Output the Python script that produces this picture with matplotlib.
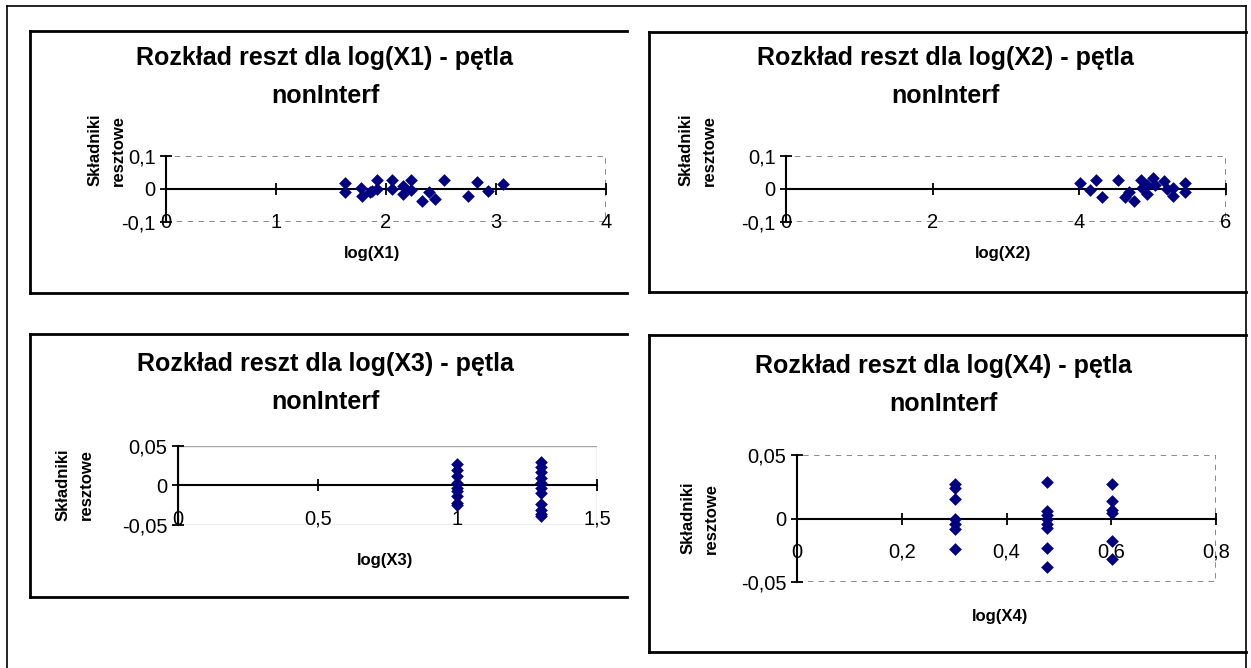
import matplotlib
matplotlib.use("Agg")
import matplotlib.pyplot as plt
from matplotlib.patches import Rectangle
from matplotlib.lines import Line2D

plt.rcParams['font.family'] = ['Liberation Sans', 'DejaVu Sans']
plt.rcParams['axes.unicode_minus'] = False

# residuals
x1 = [1.63, 1.63, 1.77, 1.78, 1.855, 1.87, 1.915, 1.92, 2.057, 2.057, 2.157, 2.157,
      2.227, 2.227, 2.33, 2.39, 2.445, 2.53, 2.748, 2.824, 2.93, 3.06]
r1 = [0.019, -0.008, 0.002, -0.021, -0.01, -0.006, 0.027, -0.001, 0.027, 0.0, 0.01, -0.016,
      0.027, -0.003, -0.036, -0.008, -0.031, 0.027, -0.021, 0.022, -0.005, 0.014]

x2 = [4.01, 4.14, 4.23, 4.31, 4.53, 4.62, 4.68, 4.75, 4.84, 4.85, 4.92, 4.92,
      5.01, 5.03, 5.15, 5.19, 5.28, 5.28, 5.44, 5.44]
r2 = [0.017, -0.003, 0.027, -0.025, 0.027, -0.025, -0.01, -0.036, 0.027, 0.002, 0.013, -0.016,
      0.032, 0.013, 0.025, -0.001, 0.003, -0.021, 0.017, -0.01]

x3 = [1.0] * 9 + [1.301] * 11
r3 = [0.0266, 0.020, 0.0118, 0.0034, -0.003, -0.0072, -0.0135, -0.022, -0.025,
      0.0295, 0.0236, 0.0173, 0.0097, 0.0034, -0.003, -0.0093, -0.024, -0.0304, -0.0367, -0.039]

x4 = [0.301] * 7 + [0.477] * 8 + [0.602] * 6
r4 = [0.0273, 0.0242, 0.0157, 0.0, -0.0047, -0.0081, -0.0239,
      0.0289, 0.0057, 0.0031, 0.0, -0.0047, -0.0073, -0.0231, -0.038,
      0.0273, 0.0136, 0.0063, 0.0045, -0.0179, -0.0317]

xt1 = [0, 1, 2, 3, 4]
xt2 = [0, 2, 4, 6]
xt3 = [0, 0.5, 1, 1.5]
xt4 = [0, 0.2, 0.4, 0.6, 0.8]
yt_a = [-0.1, 0, 0.1]
yt_b = [-0.05, 0, 0.05]

W, H = 1251, 668
fig = plt.figure(figsize=(W / 100, H / 100), dpi=100)


def fx(x):
    return x / W


def fy(y):
    return 1 - y / H


def fmt(v):
    return '{:g}'.format(v).replace('.', ',')


def hline(x0, x1_, y, lw=1.5):
    fig.add_artist(Line2D([fx(x0), fx(x1_)], [fy(y), fy(y)], color='black', lw=lw))


def vline(x, y0, y1_, lw=1.5):
    fig.add_artist(Line2D([fx(x), fx(x)], [fy(y0), fy(y1_)], color='black', lw=lw))


# outer frame
hline(7, 1246, 6, lw=1.2)
vline(7, 6, 668, lw=1.2)
vline(1246, 6, 668, lw=1.2)

# panel boxes (right side runs off the frame)
for (l, t, r, b) in [(30, 31, 627, 293), (649, 32, 1246, 292),
                     (30, 334, 627, 597), (649, 335, 1246, 652)]:
    hline(l, r, t, lw=2)
    hline(l, r, b, lw=2)
    vline(l, t, b, lw=2)


def panel(box, xs, ys, xt, yt, title, xlabel, title_xy, xlabel_xy, ylabel_xy, solid=False):
    l, t, r, b = box
    ax = fig.add_axes([fx(l), fy(b), fx(r - l), (b - t) / H])
    ax.scatter(xs, ys, marker='D', s=42, color='#000080', zorder=5, clip_on=False, linewidths=0)
    ax.set_xlim(xt[0], xt[-1])
    ax.set_ylim(yt[0], yt[-1])
    ax.set_xticks(xt)
    ax.set_xticklabels([fmt(v) for v in xt])
    ax.set_yticks(yt)
    ax.set_yticklabels([fmt(v) for v in yt])
    ax.spines['bottom'].set_position(('data', 0))
    ax.spines['bottom'].set_linewidth(1.5)
    ax.spines['left'].set_linewidth(1.5)
    ax.spines['top'].set_visible(False)
    ax.spines['right'].set_visible(False)
    if solid:
        frame = Rectangle((0, 0), 1, 1, transform=ax.transAxes, fill=False,
                          ec='#a8a8a8', lw=1.0, zorder=0)
    else:
        frame = Rectangle((0, 0), 1, 1, transform=ax.transAxes, fill=False,
                          ec='#808080', lw=1.3, ls=(0, (3, 3)), zorder=0)
    ax.add_patch(frame)
    ax.tick_params(axis='x', direction='inout', length=9, width=1.3, pad=13, labelsize=14.5)
    ax.tick_params(axis='y', direction='inout', length=9, width=1.3, pad=3, labelsize=14.5)
    ax.patch.set_alpha(0)
    tx, ty = title_xy
    fig.text(fx(tx), fy(ty), title[0], ha='center', va='center', fontsize=18, fontweight='bold')
    fig.text(fx(tx), fy(ty + 38), title[1], ha='center', va='center', fontsize=18, fontweight='bold')
    lx, ly = xlabel_xy
    fig.text(fx(lx), fy(ly), xlabel, ha='center', va='center', fontsize=12, fontweight='bold')
    yx, yy = ylabel_xy
    fig.text(fx(yx), fy(yy), 'Składniki', ha='center', va='center', rotation=90,
             fontsize=12, fontweight='bold')
    fig.text(fx(yx + 23), fy(yy), 'resztowe', ha='center', va='center', rotation=90,
             fontsize=12, fontweight='bold')
    return ax


panel((166, 156, 606, 222), x1, r1, xt1, yt_a,
      ('Rozkład reszt dla log(X1) - pętla', 'nonInterf'), 'log(X1)',
      (325, 58), (372, 254), (95, 150))
panel((786, 156, 1226, 222), x2, r2, xt2, yt_a,
      ('Rozkład reszt dla log(X2) - pętla', 'nonInterf'), 'log(X2)',
      (945, 58), (1003, 254), (686, 150))
panel((178, 446, 597, 525), x3, r3, xt3, yt_b,
      ('Rozkład reszt dla log(X3) - pętla', 'nonInterf'), 'log(X3)',
      (325, 364), (385, 560), (63, 485), solid=True)
panel((797, 455, 1216, 582), x4, r4, xt4, yt_b,
      ('Rozkład reszt dla log(X4) - pętla', 'nonInterf'), 'log(X4)',
      (943, 366), (1000, 617), (688, 518))

fig.savefig('out.png', dpi=100)
